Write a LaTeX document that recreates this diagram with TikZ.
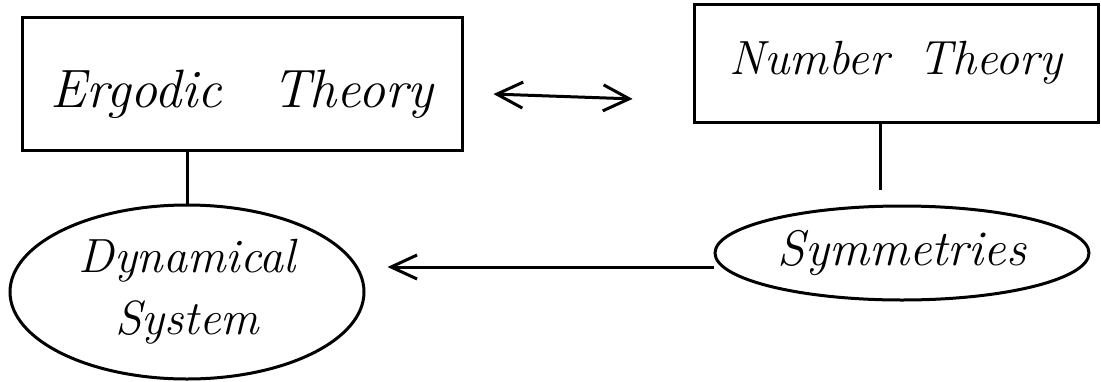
\documentclass[tikz,border=0pt]{standalone}
\usepackage{tikz}
\usetikzlibrary{arrows.meta,shapes.geometric}
\tikzset{box/.style={draw,inner sep=0pt},blob/.style={draw,ellipse,inner sep=0pt},
hand/.style={font=\fontsize{#1}{62}\selectfont\itshape},hand/.default=46,
barb/.style={{Straight Barb[length=26pt,width=26pt]}-{Straight Barb[length=26pt,width=26pt]}},
tip/.style={-{Straight Barb[length=26pt,width=24pt]}}}

\begin{document}
\begin{tikzpicture}[x=1pt,y=-1pt,line width=3pt]
\useasboundingbox (0,0) rectangle (1101,381);
\node[box,minimum width=440pt,minimum height=133pt,label={[hand=54,yshift=-10pt]center:Ergodic\hspace{50pt}Theory}] (ergodic) at (242,84){};
\node[box,minimum width=404pt,minimum height=118pt,label={[hand=48]center:Number\hspace{30pt}Theory}] (number) at (896,63){};
\node[blob,minimum width=354pt,minimum height=174pt,label={[hand=48,align=center]center:Dynamical\\System}] (dynsys) at (187,292){};
\node[blob,minimum width=374pt,minimum height=94pt,label={[hand=50]center:Symmetries}] (sym) at (902,253){};
\coordinate (symtop) at (880,190);
\draw (dynsys.north) -- (dynsys.north |- ergodic.south);\draw (number.south -| symtop) -- (symtop);
\draw[barb,shorten <=30pt,shorten >=60pt] (ergodic.east |- 0,93) -- (number.west |- 0,101);
\draw[tip,shorten >=22pt] ([yshift=-14pt]sym.west) -- ([yshift=-14pt]sym.west -| dynsys.east);
\end{tikzpicture}
\end{document}
